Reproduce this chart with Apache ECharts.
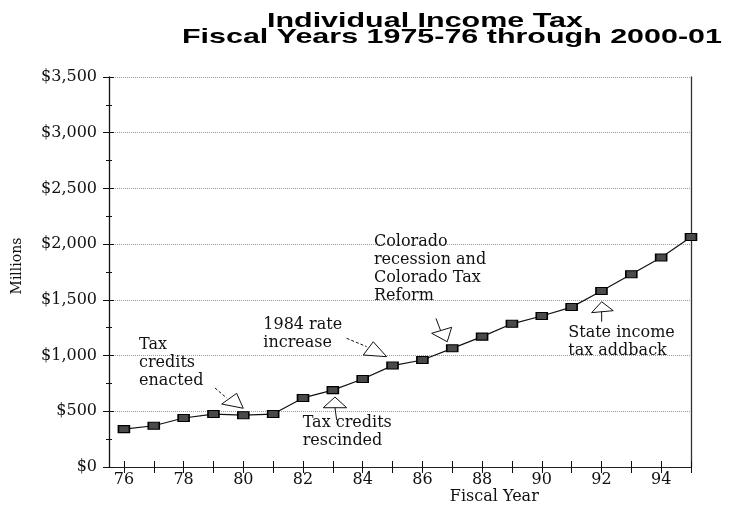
<!DOCTYPE html>
<html><head><meta charset="utf-8">
<script src="https://cdn.jsdelivr.net/npm/echarts@6/dist/echarts.min.js"></script>
<style>html,body{margin:0;padding:0;background:#fff}#c{width:732px;height:508px}</style>
</head><body><div id="c"></div>
<script>
// ---- data ----
const fiscalYears = [76,77,78,79,80,81,82,83,84,85,86,87,88,89,90,91,92,93,94,95];
const incomeTax   = [340,370,440,475,465,475,620,690,790,910,960,1065,1170,1285,1355,1435,1580,1730,1880,2065];
const yTickValues = [0,500,1000,1500,2000,2500,3000,3500];
const xTickYears  = [76,77,78,79,80,81,82,83,84,85,86,87,88,89,90,91,92,93,94,95];
const xLabelYears = [76,78,80,82,84,86,88,90,92,94];
const titleLines  = ['Individual Income Tax', 'Fiscal Years 1975-76 through 2000-01'];
const xAxisTitle  = 'Fiscal Year';
const yAxisTitle  = 'Millions';
const X_MIN = 75.5, X_MAX = 95, Y_MIN = 0, Y_MAX = 3500, Y_STEP = 500;

// annotation texts and their anchors (data coordinates)
const noteTexts   = ['Tax\ncredits\nenacted', '1984 rate\nincrease', 'Tax credits\nrescinded',
                     'Colorado\nrecession and\nColorado Tax\nReform', 'State income\ntax addback'];
const noteAnchors = [[76.505,1176],[80.669,1361],[81.989,473],[84.378,2103],[90.887,1281]];
// triangle pointers (data coordinates)
const noteTriangles = [
  [[79.276,565],[79.778,661],[79.999,527]],
  [[84.019,1005],[84.354,1124],[84.803,990]],
  [[83.071,628],[82.679,532],[83.463,532]],
  [[86.311,1200],[86.981,1254],[86.833,1124]],
  [[92.006,1483],[91.671,1385],[92.395,1403]]
];
const noteLeaders = [
  [[79.051,709],[79.443,619]],
  [[83.463,1155],[84.133,1080]],
  [[83.071,532],[83.128,422]],
  [[86.455,1334],[86.612,1223]],
  [[92.006,1394],[92.006,1304]]
];
const noteLeaderDashed = [true, true, false, false, false];
const xTitleAnchor = [86.92, -186];

// ---- build ----
const halfSteps = [];
for (let v = X_MIN; v <= X_MAX + 1e-9; v += 0.5) halfSteps.push(String(v));
const serif = '"DejaVu Serif", serif';

const chart = echarts.init(document.getElementById('c'), null, {renderer: 'canvas'});
const tickCat = (inside, withLabels) => ({
  type: 'category', data: halfSteps, boundaryGap: false, position: 'bottom',
  axisLine: {show: false},
  axisTick: {show: true, inside: inside, length: 6, lineStyle: {color: '#111', width: 1},
    interval: (i, v) => xTickYears.indexOf(Number(v)) >= 0},
  axisLabel: {show: withLabels, margin: 5, color: '#111', fontFamily: serif, fontSize: 16,
    interval: (i, v) => xLabelYears.indexOf(Number(v)) >= 0},
  splitLine: {show: false}
});

chart.setOption({
  animation: false,
  backgroundColor: '#fff',
  grid: {left: 109, right: 41, top: 77, bottom: 41, containLabel: false, outerBoundsMode: 'none'},
  xAxis: [
    {type: 'value', min: X_MIN, max: X_MAX, position: 'bottom',
     axisLine: {show: true, lineStyle: {color: '#222', width: 1}},
     axisTick: {show: false}, axisLabel: {show: false}, splitLine: {show: false}},
    tickCat(false, true),
    tickCat(true, false)
  ],
  yAxis: [
    {type: 'value', min: Y_MIN, max: Y_MAX, interval: Y_STEP, position: 'left',
     name: yAxisTitle, nameLocation: 'middle', nameGap: 85, nameRotate: 90,
     nameTextStyle: {color: '#111', fontFamily: serif, fontSize: 14, padding: [0, 0, 0, 12]},
     axisLine: {show: true, lineStyle: {color: '#111', width: 1.3}},
     axisTick: {show: true, inside: false, length: 6, lineStyle: {color: '#111'}},
     minorTick: {show: true, splitNumber: 2, length: 3, lineStyle: {color: '#111'}},
     axisLabel: {color: '#111', fontFamily: serif, fontSize: 16, margin: 12,
       formatter: v => yTickValues.indexOf(v) >= 0 ? '$' + v.toLocaleString('en-US') : ''},
     splitLine: {show: true, lineStyle: {color: '#999', type: 'dotted', width: 1}}},
    {type: 'value', min: Y_MIN, max: Y_MAX, interval: Y_STEP, position: 'left',
     axisLine: {show: false},
     axisTick: {show: true, inside: true, length: 5, lineStyle: {color: '#111'}},
     minorTick: {show: true, splitNumber: 2, length: 3, lineStyle: {color: '#111'}},
     axisLabel: {show: false}, splitLine: {show: false}},
    {type: 'value', min: Y_MIN, max: Y_MAX, position: 'right',
     axisLine: {show: true, lineStyle: {color: '#333', width: 1.3}},
     axisTick: {show: false}, axisLabel: {show: false}, splitLine: {show: false}}
  ],
  series: [{
    type: 'line', xAxisIndex: 0, yAxisIndex: 0,
    data: fiscalYears.map((y, i) => [y, incomeTax[i]]),
    symbol: 'rect', symbolSize: [11, 7],
    lineStyle: {color: '#111', width: 1.2},
    itemStyle: {color: '#4a4a4a', borderColor: '#000', borderWidth: 1.3},
    z: 5
  }]
});

const px = p => chart.convertToPixel({seriesIndex: 0}, p);
const g = [];
g.push({type: 'text', x: 267, y: 21, scaleX: 1.45,
  style: {text: titleLines[0], font: 'bold 21px "Liberation Sans", Arial, sans-serif', fill: '#000',
          textAlign: 'left', textVerticalAlign: 'middle'}});
g.push({type: 'text', x: 182, y: 37.5, scaleX: 1.45,
  style: {text: titleLines[1], font: 'bold 21px "Liberation Sans", Arial, sans-serif', fill: '#000',
          textAlign: 'left', textVerticalAlign: 'middle'}});
noteTexts.forEach((t, i) => {
  const p = px(noteAnchors[i]);
  g.push({type: 'text', x: p[0], y: p[1], z: 10,
    style: {text: t, font: '16px ' + serif, fill: '#111', lineHeight: 18,
            textAlign: 'left', textVerticalAlign: 'top'}});
});
noteTriangles.forEach(tri => {
  g.push({type: 'polygon', z: 9, shape: {points: tri.map(px)},
    style: {fill: '#fff', stroke: '#111', lineWidth: 1}});
});
noteLeaders.forEach((ln, i) => {
  g.push({type: 'polyline', z: 9, shape: {points: ln.map(px)},
    style: {stroke: '#111', lineWidth: 1, lineDash: noteLeaderDashed[i] ? [3, 2] : null, fill: null}});
});
const ft = px(xTitleAnchor);
g.push({type: 'text', x: ft[0], y: ft[1],
  style: {text: xAxisTitle, font: '16px ' + serif, fill: '#111', lineHeight: 18,
          textAlign: 'left', textVerticalAlign: 'top'}});
chart.setOption({graphic: g});
</script></body></html>
